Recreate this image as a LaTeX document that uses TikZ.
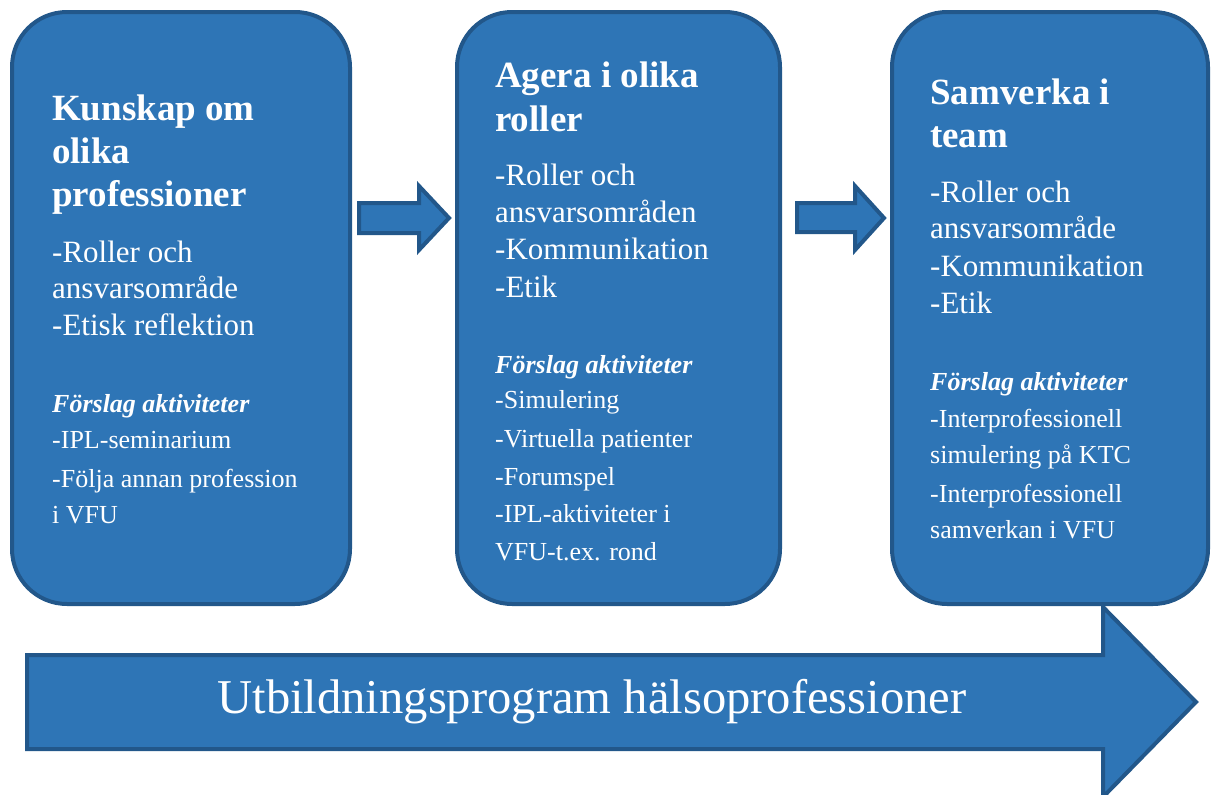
\documentclass[tikz,border=0pt]{standalone}
\usepackage{fontspec}
\setmainfont{Liberation Serif}
\definecolor{boxfill}{HTML}{2E75B6}
\definecolor{boxline}{HTML}{22578A}
\tikzset{
  panel/.style={draw=boxline, fill=boxfill, line width=4pt, rounded corners=55pt, inner sep=0},
  flow/.style={draw=boxline, fill=boxfill, line width=4pt, line join=miter},
  ttl/.style={anchor=base west, inner sep=0, text=white, font=\fontsize{37}{43}\selectfont\bfseries},
  bdy/.style={anchor=base west, inner sep=0, text=white, font=\fontsize{31}{37}\selectfont},
  act/.style={anchor=base west, inner sep=0, text=white, font=\fontsize{26}{37}\selectfont},
  acth/.style={anchor=base west, inner sep=0, text=white, font=\fontsize{26}{37}\selectfont\bfseries\itshape},
  bigtxt/.style={anchor=base, inner sep=0, text=white, font=\fontsize{48.6}{52}\selectfont}
}
\begin{document}
\begin{tikzpicture}[x=1pt,y=-1pt]
\useasboundingbox (0,0) rectangle (1213,795);
% panels
\node[panel, minimum width=338pt, minimum height=592pt] (p1) at (181,308) {};
\node[panel, minimum width=323pt, minimum height=592pt] (p2) at (618.5,308) {};
\node[panel, minimum width=316pt, minimum height=592pt] (p3) at (1050,308) {};
% small arrows
\draw[flow] (359,203)--(419,203)--(419,186)--(449,218)--(419,250)--(419,233)--(359,233)--cycle;
\draw[flow] (797,203)--(855,203)--(855,186)--(884,218)--(855,250)--(855,232)--(797,232)--cycle;
% big arrow
\draw[flow] (27,655)--(1103,655)--(1103,607)--(1196,702)--(1103,797)--(1103,749)--(27,749)--cycle;
\node[bigtxt] (prog) at (592,713) {Utbildningsprogram hälsoprofessioner};
% panel 1
\foreach \yy/\tt [count=\i] in {120/Kunskap om,163/olika,206/professioner}
  \node[ttl] (at\i) at (52,\yy) {\tt};
\foreach \yy/\tt [count=\i] in {262/-Roller och,298/ansvarsområde,335/-Etisk reflektion}
  \node[bdy] (ab\i) at (52,\yy) {\tt};
\node[acth] (ah) at (52,412) {Förslag aktiviteter};
\foreach \yy/\tt [count=\i] in {448/-IPL-seminarium,487/-Följa annan profession,523/i VFU}
  \node[act] (aa\i) at (52,\yy) {\tt};
% panel 2
\foreach \yy/\tt [count=\i] in {87/Agera i olika,131/roller}
  \node[ttl] (bt\i) at (495,\yy) {\tt};
\foreach \yy/\tt [count=\i] in {185/-Roller och,222/ansvarsområden,259/-Kommunikation,297/-Etik}
  \node[bdy] (bb\i) at (495,\yy) {\tt};
\node[acth] (bh) at (495,373) {Förslag aktiviteter};
\foreach \yy/\tt [count=\i] in {408/-Simulering,447/-Virtuella patienter,485/-Forumspel,522/-IPL-aktiviteter i,560/VFU-t.ex. rond}
  \node[act] (ba\i) at (495,\yy) {\tt};
% panel 3
\foreach \yy/\tt [count=\i] in {104/Samverka i,147/team}
  \node[ttl] (ct\i) at (930,\yy) {\tt};
\foreach \yy/\tt [count=\i] in {202/-Roller och,238/ansvarsområde,276/-Kommunikation,313/-Etik}
  \node[bdy] (cb\i) at (930,\yy) {\tt};
\node[acth] (ch) at (930,390) {Förslag aktiviteter};
\foreach \yy/\tt [count=\i] in {427/-Interprofessionell,463/simulering på KTC,502/-Interprofessionell,538/samverkan i VFU}
  \node[act] (ca\i) at (930,\yy) {\tt};
\end{tikzpicture}
\end{document}
